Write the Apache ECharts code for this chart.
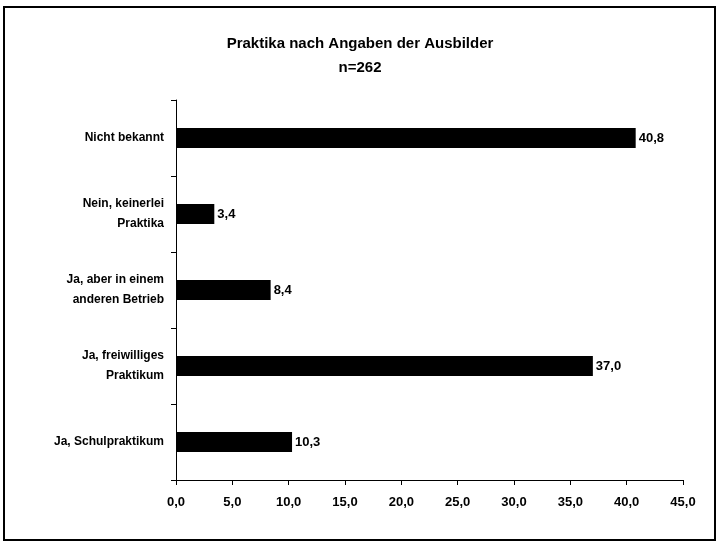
<!DOCTYPE html>
<html><head><meta charset="utf-8">
<script src="https://cdn.jsdelivr.net/npm/echarts@6/dist/echarts.min.js"></script>
<style>html,body{margin:0;padding:0;background:#fff}#c{width:720px;height:545px}</style>
</head><body><div id="c"></div>
<script>
var categories = ['Ja, Schulpraktikum', 'Ja, freiwilliges\nPraktikum', 'Ja, aber in einem\nanderen Betrieb', 'Nein, keinerlei\nPraktika', 'Nicht bekannt'];
var values = [10.3, 37.0, 8.4, 3.4, 40.8];
var xTicks = [0, 5, 10, 15, 20, 25, 30, 35, 40, 45];
var fmt = function (v) { return v.toFixed(1).replace('.', ','); };
var chart = echarts.init(document.getElementById('c'));
chart.setOption({
  animation: false,
  backgroundColor: '#fff',
  textStyle: { fontFamily: 'Liberation Sans, Arial, sans-serif' },
  title: {
    text: 'Praktika nach Angaben der Ausbilder\nn=262',
    left: 'center', top: 27,
    textStyle: { fontSize: 15, fontWeight: 'bold', color: '#000', lineHeight: 24, fontFamily: 'Liberation Sans, Arial, sans-serif' }
  },
  graphic: [{
    type: 'rect', shape: { x: 4, y: 7, width: 711, height: 533 },
    style: { fill: null, stroke: '#000', lineWidth: 2 }, silent: true
  }],
  grid: { left: 176, right: 37, top: 100, bottom: 65 },
  xAxis: {
    type: 'value', min: xTicks[0], max: xTicks[xTicks.length - 1], interval: 5,
    splitLine: { show: false },
    axisLine: { show: true, lineStyle: { color: '#000', width: 1 } },
    axisTick: { show: true, length: 5, lineStyle: { color: '#000' } },
    axisLabel: { color: '#000', fontWeight: 'bold', fontSize: 13, margin: 16, formatter: fmt }
  },
  yAxis: {
    type: 'category', data: categories,
    axisLine: { show: true, lineStyle: { color: '#000', width: 1 } },
    axisTick: { show: true, length: 5, alignWithLabel: false, lineStyle: { color: '#000' } },
    axisLabel: { color: '#000', fontWeight: 'bold', fontSize: 12, margin: 12, lineHeight: 20, align: 'right' }
  },
  series: [{
    type: 'bar', data: values, barWidth: 20,
    itemStyle: { color: '#000' },
    label: { show: true, position: 'right', distance: 3, color: '#000', fontWeight: 'bold', fontSize: 13, formatter: function (p) { return fmt(p.value); } }
  }]
});
</script></body></html>
